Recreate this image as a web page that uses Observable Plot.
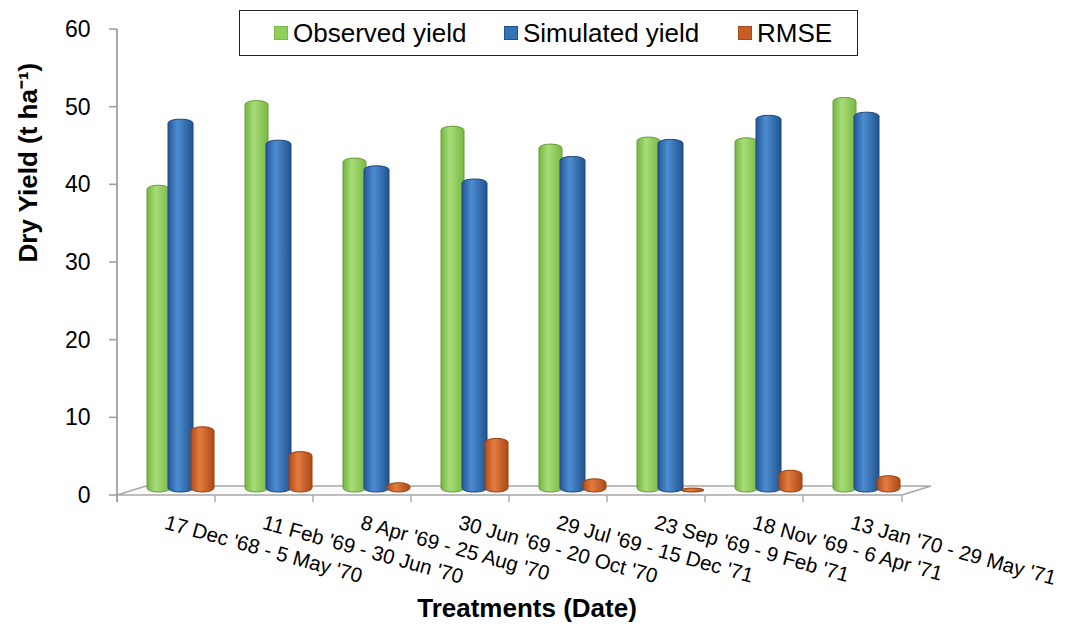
<!DOCTYPE html>
<html>
<head>
<meta charset="utf-8">
<script src="https://cdn.jsdelivr.net/npm/d3@7"></script>
<script src="https://cdn.jsdelivr.net/npm/@observablehq/plot@0.6"></script>
<style>
  html, body { margin: 0; padding: 0; background: #ffffff; }
  #wrap { position: relative; width: 1068px; height: 628px; font-family: "Liberation Sans", Arial, sans-serif; }
  #legend { position: absolute; left: 239px; top: 10px; width: 617px; height: 44px; border: 1.5px solid #222; background: #fff; }
  .item { position: absolute; top: 0; height: 44px; display: flex; align-items: center; font-size: 26px; color: #000; white-space: nowrap; }
  .sw { width: 14px; height: 14px; margin-right: 5px; box-sizing: border-box; }
</style>
</head>
<body>
<div id="wrap"></div>
<script>
// ---- data ----
const categories = [
  "17 Dec '68 - 5 May '70",
  "11 Feb '69 - 30 Jun '70",
  "8 Apr '69 - 25 Aug '70",
  "30 Jun '69 - 20 Oct '70",
  "29 Jul '69 - 15 Dec '71",
  "23 Sep '69 - 9 Feb '71",
  "18 Nov '69 - 6 Apr '71",
  "13 Jan '70 - 29 May '71"
];
const observed  = [39.5, 50.4, 43.0, 47.1, 44.8, 45.7, 45.6, 50.8];
const simulated = [48.0, 45.3, 42.0, 40.3, 43.2, 45.4, 48.5, 48.9];
const rmse      = [8.4, 5.2, 1.2, 6.9, 1.7, 0.5, 2.8, 2.1];
const seriesNames = ["Observed yield", "Simulated yield", "RMSE"];
const seriesColors = ["#8fcf5a", "#3473b8", "#c95d26"];
const yTicks = [0, 10, 20, 30, 40, 50, 60];
const yTitle = "Dry Yield (t ha\u207B\u00B9)";
const xTitle = "Treatments (Date)";

const rows = (vals) => categories.map((c, i) => ({category: c, value: vals[i]}));

// decoration: gradients, 3D floor, axis lines and ticks (positions from scales)
function decor(index, scales, values, dims) {
  const {x, y} = scales;
  const g = d3.create("svg:g");
  const defs = g.append("defs");
  const grads = [
    ["gGreen", ["#74b541", "#a8dc78", "#78b944"]],
    ["gBlue", ["#24589a", "#4d8cd2", "#21548f"]],
    ["gOrange", ["#b24b1a", "#e27d40", "#ae4818"]]
  ];
  for (const [id, cs] of grads) {
    const lg = defs.append("linearGradient").attr("id", id).attr("x1", 0).attr("x2", 1).attr("y1", 0).attr("y2", 0);
    lg.append("stop").attr("offset", "0%").attr("stop-color", cs[0]);
    lg.append("stop").attr("offset", "38%").attr("stop-color", cs[1]);
    lg.append("stop").attr("offset", "100%").attr("stop-color", cs[2]);
  }
  const y0 = y(0);
  const xs = categories.map(c => x(c));
  const xL = xs[0];
  const xR = dims.width - dims.marginRight;
  const dx3 = 29, dy3 = 9;
  // floor
  g.append("path")
    .attr("d", `M${xL},${y0}L${xL + dx3},${y0 - dy3}L${xR + dx3},${y0 - dy3}L${xR},${y0}Z`)
    .attr("fill", "#fafafa").attr("stroke", "#a8a8a8").attr("stroke-width", 1.6);
  // category ticks
  for (const xv of [...xs, xR]) {
    g.append("line").attr("x1", xv).attr("x2", xv).attr("y1", y0).attr("y2", y0 + 7)
      .attr("stroke", "#a8a8a8").attr("stroke-width", 1.4);
  }
  // y axis line + ticks
  g.append("line").attr("x1", xL).attr("x2", xL).attr("y1", y(60)).attr("y2", y0 + 7)
    .attr("stroke", "#a0a0a0").attr("stroke-width", 1.8);
  for (const t of yTicks) {
    g.append("line").attr("x1", xL - 8).attr("x2", xL).attr("y1", y(t)).attr("y2", y(t))
      .attr("stroke", "#a0a0a0").attr("stroke-width", 1.6);
  }
  return g.node();
}

const barCommon = {x: "category", y: "value", rx: 11.5, ry: 4, strokeWidth: 1, dy: -3};

const chart = Plot.plot({
  width: 1068,
  height: 628,
  marginLeft: 115,
  marginRight: 166,
  marginTop: 29,
  marginBottom: 133,
  style: {fontFamily: "'Liberation Sans', Arial, sans-serif", background: "#ffffff", color: "#000"},
  x: {domain: categories, padding: 0, axis: null},
  y: {domain: [0, 60], axis: null},
  marks: [
    decor,
    Plot.barY(rows(observed), {...barCommon, fill: "url(#gGreen)", stroke: "#679c39", insetLeft: 30, insetRight: 45}),
    Plot.barY(rows(simulated), {...barCommon, fill: "url(#gBlue)", stroke: "#1c467c", insetLeft: 51, insetRight: 22}),
    Plot.barY(rows(rmse), {...barCommon, fill: "url(#gOrange)", stroke: "#96400f", insetLeft: 74, insetRight: 1}),
    Plot.text(yTicks, {y: d => d, text: d => String(d), frameAnchor: "left", dx: -25, textAnchor: "end", fontSize: 23, fill: "#000"}),
    Plot.text(categories, {x: d => d, text: d => d, frameAnchor: "bottom", dx: 1, dy: 19, rotate: 15.5, textAnchor: "start", lineAnchor: "top", fontSize: 20.5, fill: "#000"}),
    Plot.text([yTitle], {text: d => d, frameAnchor: "left", dx: -87, rotate: -90, fontSize: 26, fontWeight: "bold", fill: "#000"}),
    Plot.text([xTitle], {text: d => d, frameAnchor: "bottom", dx: 18, dy: 121, fontSize: 26, fontWeight: "bold", fill: "#000"})
  ]
});

const wrap = document.getElementById("wrap");
wrap.appendChild(chart);

// legend
const legend = document.createElement("div");
legend.id = "legend";
const itemLefts = [34, 264, 498];
const swBorders = ["#7fb94d", "#1f4f8c", "#a84a1c"];
seriesNames.forEach((name, i) => {
  const it = document.createElement("div");
  it.className = "item";
  it.style.left = itemLefts[i] + "px";
  const sw = document.createElement("span");
  sw.className = "sw";
  sw.style.background = seriesColors[i];
  sw.style.border = "1px solid " + swBorders[i];
  const tx = document.createElement("span");
  tx.textContent = name;
  it.appendChild(sw);
  it.appendChild(tx);
  legend.appendChild(it);
});
wrap.appendChild(legend);
</script>
</body>
</html>
